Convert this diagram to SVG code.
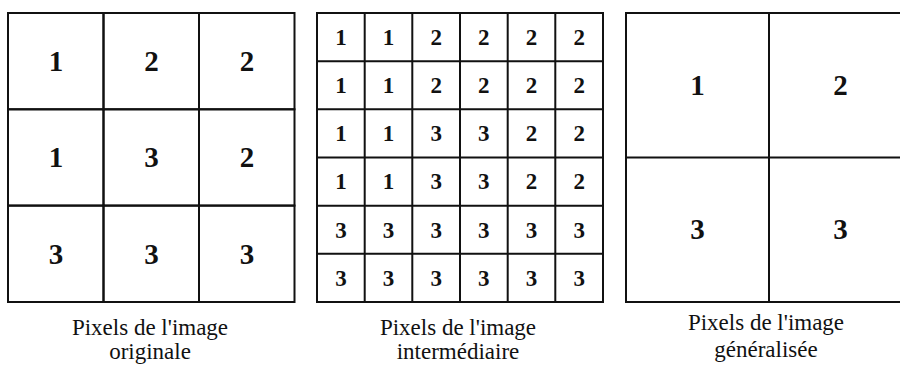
<svg xmlns="http://www.w3.org/2000/svg" width="900" height="367" viewBox="0 0 900 367">
<style>
.cell{fill:none;stroke:#111;stroke-width:2}
.big{font-family:"Liberation Serif","Times New Roman",serif;font-weight:bold;font-size:29px;fill:#111;text-anchor:middle}
.sm{font-family:"Liberation Serif","Times New Roman",serif;font-weight:bold;font-size:23px;fill:#111;text-anchor:middle}
.cap{font-family:"Liberation Serif","Times New Roman",serif;font-size:23px;fill:#111;text-anchor:middle}
</style>
<rect width="900" height="367" fill="#fff"/>
<g id="grid-originale">
<rect class="cell" x="8" y="13" width="95.5" height="96.3"/>
<rect class="cell" x="103.5" y="13" width="95.5" height="96.3"/>
<rect class="cell" x="199" y="13" width="95.5" height="96.3"/>
<rect class="cell" x="8" y="109.3" width="95.5" height="96.3"/>
<rect class="cell" x="103.5" y="109.3" width="95.5" height="96.3"/>
<rect class="cell" x="199" y="109.3" width="95.5" height="96.3"/>
<rect class="cell" x="8" y="205.6" width="95.5" height="96.4"/>
<rect class="cell" x="103.5" y="205.6" width="95.5" height="96.4"/>
<rect class="cell" x="199" y="205.6" width="95.5" height="96.4"/>
<text class="big" x="56" y="71">1</text>
<text class="big" x="151.5" y="71">2</text>
<text class="big" x="247" y="71">2</text>
<text class="big" x="56" y="167.3">1</text>
<text class="big" x="151.5" y="167.3">3</text>
<text class="big" x="247" y="167.3">2</text>
<text class="big" x="56" y="263.5">3</text>
<text class="big" x="151.5" y="263.5">3</text>
<text class="big" x="247" y="263.5">3</text>
<text class="cap" x="150" y="335">Pixels de l'image</text>
<text class="cap" x="150" y="359">originale</text>
</g>
<g id="grid-intermediaire">
<g fill="none" stroke="#111" stroke-width="2">
<rect x="317" y="13" width="286" height="289"/>
<path d="M364.7 13V302M412.3 13V302M460 13V302M507.7 13V302M555.3 13V302M317 61.2H603M317 109.3H603M317 157.5H603M317 205.7H603M317 253.8H603"/>
</g>
<g>
<text class="sm" x="341" y="45">1</text><text class="sm" x="388.5" y="45">1</text><text class="sm" x="436.2" y="45">2</text><text class="sm" x="483.8" y="45">2</text><text class="sm" x="531.5" y="45">2</text><text class="sm" x="579.2" y="45">2</text>
<text class="sm" x="341" y="93.1">1</text><text class="sm" x="388.5" y="93.1">1</text><text class="sm" x="436.2" y="93.1">2</text><text class="sm" x="483.8" y="93.1">2</text><text class="sm" x="531.5" y="93.1">2</text><text class="sm" x="579.2" y="93.1">2</text>
<text class="sm" x="341" y="141.3">1</text><text class="sm" x="388.5" y="141.3">1</text><text class="sm" x="436.2" y="141.3">3</text><text class="sm" x="483.8" y="141.3">3</text><text class="sm" x="531.5" y="141.3">2</text><text class="sm" x="579.2" y="141.3">2</text>
<text class="sm" x="341" y="189.4">1</text><text class="sm" x="388.5" y="189.4">1</text><text class="sm" x="436.2" y="189.4">3</text><text class="sm" x="483.8" y="189.4">3</text><text class="sm" x="531.5" y="189.4">2</text><text class="sm" x="579.2" y="189.4">2</text>
<text class="sm" x="341" y="237.6">3</text><text class="sm" x="388.5" y="237.6">3</text><text class="sm" x="436.2" y="237.6">3</text><text class="sm" x="483.8" y="237.6">3</text><text class="sm" x="531.5" y="237.6">3</text><text class="sm" x="579.2" y="237.6">3</text>
<text class="sm" x="341" y="285.8">3</text><text class="sm" x="388.5" y="285.8">3</text><text class="sm" x="436.2" y="285.8">3</text><text class="sm" x="483.8" y="285.8">3</text><text class="sm" x="531.5" y="285.8">3</text><text class="sm" x="579.2" y="285.8">3</text>
</g>
<text class="cap" x="458" y="335">Pixels de l'image</text>
<text class="cap" x="458" y="359">intermédiaire</text>
</g>
<g id="grid-generalisee">
<g fill="none" stroke="#111" stroke-width="2">
<path d="M912 13H626V302H912M769 13V302M626 157.5H912"/>
</g>
<text class="big" x="697.5" y="94.5">1</text>
<text class="big" x="840.5" y="94.5">2</text>
<text class="big" x="697.5" y="239">3</text>
<text class="big" x="840.5" y="239">3</text>
<text class="cap" x="766" y="330">Pixels de l'image</text>
<text class="cap" x="766" y="357">généralisée</text>
</g>
</svg>
